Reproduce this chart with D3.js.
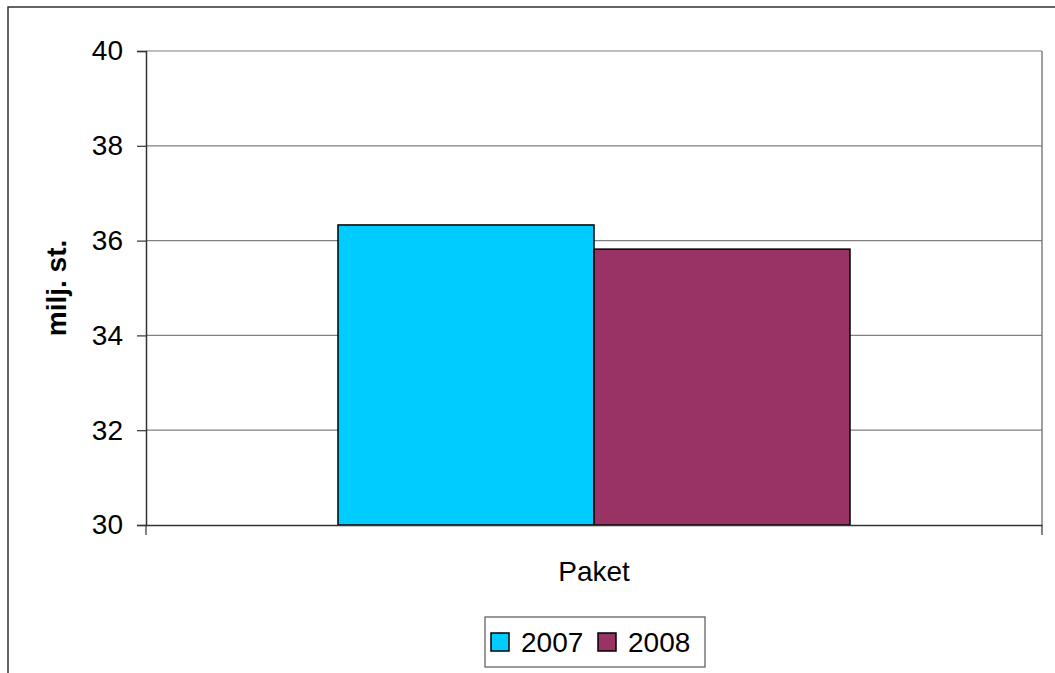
<!DOCTYPE html>
<html>
<head>
<meta charset="utf-8">
<script src="https://cdn.jsdelivr.net/npm/d3@7"></script>
<style>
  body { margin: 0; background: #fff; }
  text { font-family: 'Liberation Sans', Arial, sans-serif; fill: #000; }
</style>
</head>
<body>
<div id="chart"></div>
<script>
const categories = ['Paket']
const seriesNames = ['2007', '2008']
const values2007 = [36.33]
const values2008 = [35.82]
const yTicks = [30, 32, 34, 36, 38, 40]
const colors = ['#00CCFF', '#993366']

const series = [values2007, values2008]
const w = 1055
const h = 673
const margin = { top: 51, right: 13, bottom: 148, left: 146 }
const width = w - margin.left - margin.right
const height = h - margin.top - margin.bottom

const svg = d3.select('#chart').append('svg')
  .attr('width', w)
  .attr('height', h)

// outer chart border (right/bottom run off the page)
svg.append('rect')
  .attr('x', 8).attr('y', 7)
  .attr('width', 1100).attr('height', 700)
  .attr('fill', 'none')
  .attr('stroke', '#333')
  .attr('stroke-width', 1.5)

const g = svg.append('g').attr('transform', 'translate(' + margin.left + ',' + margin.top + ')')

const x = d3.scaleBand().domain(categories).range([0, width]).paddingInner(0).paddingOuter(0.375)
const x1 = d3.scaleBand().domain(seriesNames).range([0, x.bandwidth()])
const y = d3.scaleLinear().domain([30, 40]).range([height, 0])

// gridlines
g.append('g')
  .selectAll('line')
  .data(yTicks.filter(d => d > 30))
  .enter().append('line')
  .attr('x1', 0).attr('x2', width)
  .attr('y1', d => y(d)).attr('y2', d => y(d))
  .attr('stroke', '#808080')
  .attr('stroke-width', 1.2)

// right border of plot area
g.append('line')
  .attr('x1', width).attr('x2', width)
  .attr('y1', 0).attr('y2', height)
  .attr('stroke', '#808080')
  .attr('stroke-width', 1.5)

// bars
seriesNames.forEach((s, i) => {
  g.selectAll('.bar' + s)
    .data(categories)
    .enter().append('rect')
    .attr('x', d => x(d) + x1(s))
    .attr('y', (d, j) => y(series[i][j]))
    .attr('width', x1.bandwidth())
    .attr('height', (d, j) => height - y(series[i][j]))
    .attr('fill', colors[i])
    .attr('stroke', '#000')
    .attr('stroke-width', 1.5)
})

// y axis
const yAxis = g.append('g')
  .call(d3.axisLeft(y).tickValues(yTicks).tickSize(9).tickPadding(14).tickFormat(d3.format('d')))
yAxis.select('.domain').attr('stroke', '#333').attr('stroke-width', 1.5)
yAxis.selectAll('.tick line').attr('stroke', '#333').attr('stroke-width', 1.2)
yAxis.selectAll('.tick text')
  .style('font-family', "'Liberation Sans', Arial, sans-serif")
  .style('font-size', '28px')
  .attr('fill', '#000')

// x axis
const xAxis = g.append('g')
  .attr('transform', 'translate(0,' + height + ')')
  .call(d3.axisBottom(x).tickSize(0).tickPadding(36))
xAxis.select('.domain').attr('stroke', '#333').attr('stroke-width', 1.5)
xAxis.selectAll('.tick text')
  .style('font-family', "'Liberation Sans', Arial, sans-serif")
  .style('font-size', '28px')
  .attr('fill', '#000')
// category boundary ticks
xAxis.selectAll('.edge')
  .data([0, width])
  .enter().append('line')
  .attr('x1', d => d).attr('x2', d => d)
  .attr('y1', 0).attr('y2', 10)
  .attr('stroke', '#333')
  .attr('stroke-width', 1.2)

// y axis title
svg.append('text')
  .attr('transform', 'translate(66,' + (margin.top + height / 2) + ') rotate(-90)')
  .attr('text-anchor', 'middle')
  .style('font-size', '28px')
  .style('font-weight', 'bold')
  .text('milj. st.')

// legend
const legend = svg.append('g').attr('transform', 'translate(485,617)')
legend.append('rect')
  .attr('width', 220).attr('height', 50)
  .attr('fill', '#fff')
  .attr('stroke', '#555')
  .attr('stroke-width', 1.2)
const itemX = [6, 113]
seriesNames.forEach((s, i) => {
  legend.append('rect')
    .attr('x', itemX[i]).attr('y', 16)
    .attr('width', 18).attr('height', 18)
    .attr('fill', colors[i])
    .attr('stroke', '#000')
    .attr('stroke-width', 1.5)
  legend.append('text')
    .attr('x', itemX[i] + 30).attr('y', 35)
    .style('font-size', '28px')
    .text(s)
})
</script>
</body>
</html>
